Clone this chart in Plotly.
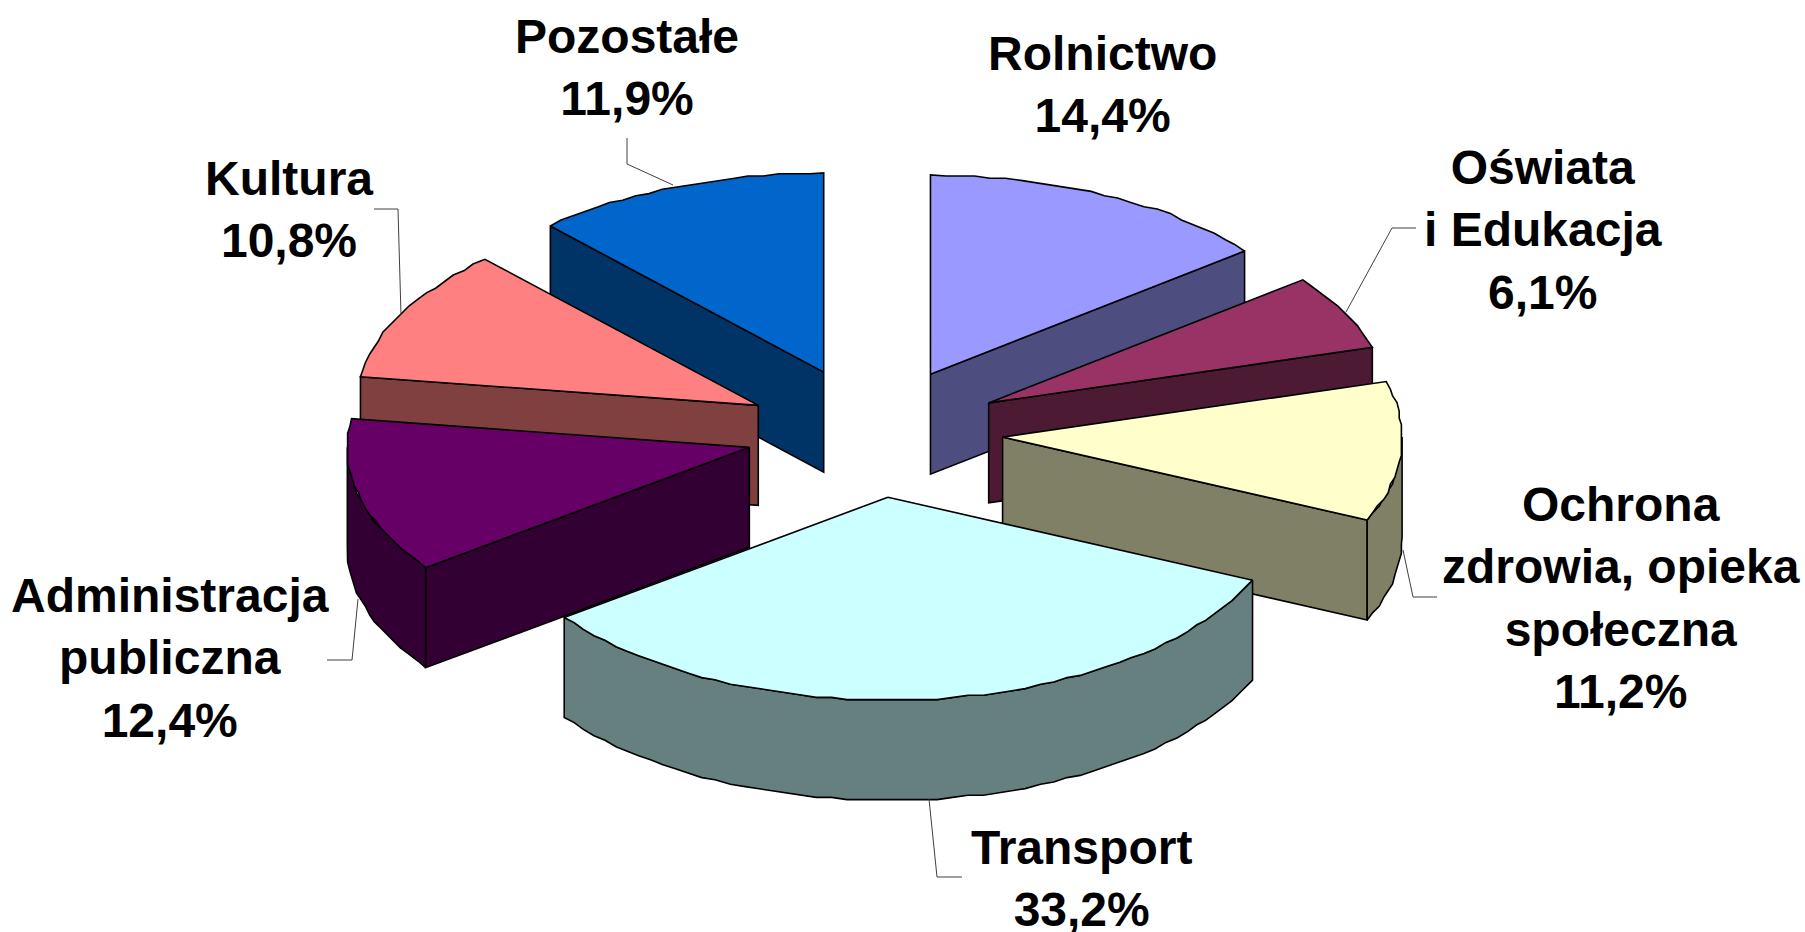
import numpy as np
import plotly.graph_objects as go

categories = ["Rolnictwo", "Oświata<br>i Edukacja", "Ochrona<br>zdrowia, opieka<br>społeczna", "Transport",
              "Administracja<br>publiczna", "Kultura", "Pozostałe"]
values = [14.4, 6.1, 11.2, 33.2, 12.4, 10.8, 11.9]
value_labels = ["14,4%", "6,1%", "11,2%", "33,2%", "12,4%", "10,8%", "11,9%"]
top_colors = ["#9999FF", "#993366", "#FFFFCC", "#CCFFFF", "#660066", "#FF8080", "#0066CC"]
side_colors = ["#4D4D80", "#4D1A33", "#808066", "#668080", "#330033", "#804040", "#003366"]
label_x = [1102, 1543, 1621, 1081, 170, 289, 627]
label_y = [84, 230, 598, 878, 658, 209, 67]
leaders = [
    [],
    [(1346, 312), (1392, 228), (1416, 228)],
    [(1403, 550), (1413, 597), (1437, 597)],
    [(929, 799), (937, 877), (962, 877)],
    [(327, 660), (352, 660), (358, 599)],
    [(374, 209), (398, 209), (401, 315)],
    [(673, 185), (627, 164), (627, 138)],
]
paint_order = [6, 0, 1, 5, 2, 4, 3]
slice_nudge = [(0, 0), (0, 0), (0, 0), (0, 0), (0, -1), (-2, 3), (-3.5, 0)]

CX, CY = 874.2, 432.6
RX, RY = 399.5, 199.2
RX_LEFT, RY_FRONT = 402.0, 203.0
EX, EY = 128.7, 65.0
DEPTH = 100.0
STEP = 2.2
GRID = 2.2
LINE = dict(color="black", width=1.6)


def rim(ax, ay, a):
    t = np.radians(a)
    s, c = np.sin(t), np.cos(t)
    rx = np.where(s < 0, RX_LEFT, RX)
    ry = np.where(c < 0, RY_FRONT, RY)
    return ax + rx * s, ay - ry * c


def arc(ax, ay, a0, a1):
    n = max(2, int(np.ceil((a1 - a0) / STEP)) + 1)
    x, y = rim(ax, ay, np.linspace(a0, a1, n))
    # the source drawing is a coarse metafile: its rim points sit on a low-resolution grid
    x[1:-1] = np.round(x[1:-1] / GRID) * GRID
    y[1:-1] = np.round(y[1:-1] / GRID) * GRID
    return x, y


def face(fig, xs, ys, color):
    fig.add_trace(go.Scatter(x=list(xs), y=list(ys), mode="lines", fill="toself",
                             fillcolor=color, line=LINE, hoverinfo="skip", showlegend=False))


fig = go.Figure()
edges = np.concatenate([[0], np.cumsum(values)]) * 3.6

for i in paint_order:
    s, e = edges[i], edges[i + 1]
    mid = np.radians((s + e) / 2)
    ax = CX + EX * np.sin(mid) + slice_nudge[i][0]
    ay = CY - EY * np.cos(mid) + slice_nudge[i][1]

    for a, show in ((s, np.sin(np.radians(s)) < -1e-6), (e, np.sin(np.radians(e)) > 1e-6)):
        if show:
            px, py = rim(ax, ay, a)
            face(fig, [ax, px, px, ax, ax], [ay, py, py + DEPTH, ay + DEPTH, ay], side_colors[i])

    r0, r1 = max(s, 90), min(e, 270)
    if r1 > r0:
        x, y = arc(ax, ay, r0, r1)
        face(fig, np.r_[x, x[::-1], x[0]], np.r_[y, y[::-1] + DEPTH, y[0]], side_colors[i])

    x, y = arc(ax, ay, s, e)
    face(fig, np.r_[ax, x, ax], np.r_[ay, y, ay], top_colors[i])

for pts in leaders:
    if pts:
        fig.add_trace(go.Scatter(x=[p[0] for p in pts], y=[p[1] for p in pts], mode="lines",
                                 line=dict(color="#404040", width=1), hoverinfo="skip", showlegend=False))

for c, v, lx, ly in zip(categories, value_labels, label_x, label_y):
    fig.add_annotation(x=lx, y=ly, text=f"{c}<br>{v}", showarrow=False, xanchor="center", yanchor="middle",
                       align="center", font=dict(family="Liberation Sans", size=48, color="black", weight="bold"))

fig.update_layout(width=1805, height=932, margin=dict(l=0, r=0, t=0, b=0),
                  paper_bgcolor="white", plot_bgcolor="white", showlegend=False,
                  xaxis=dict(range=[0, 1805], visible=False, fixedrange=True),
                  yaxis=dict(range=[932, 0], visible=False, fixedrange=True))

fig.write_html("out.html", config={"displayModeBar": False},
               post_script="document.body.style.margin='0';document.documentElement.style.overflow='hidden';")
